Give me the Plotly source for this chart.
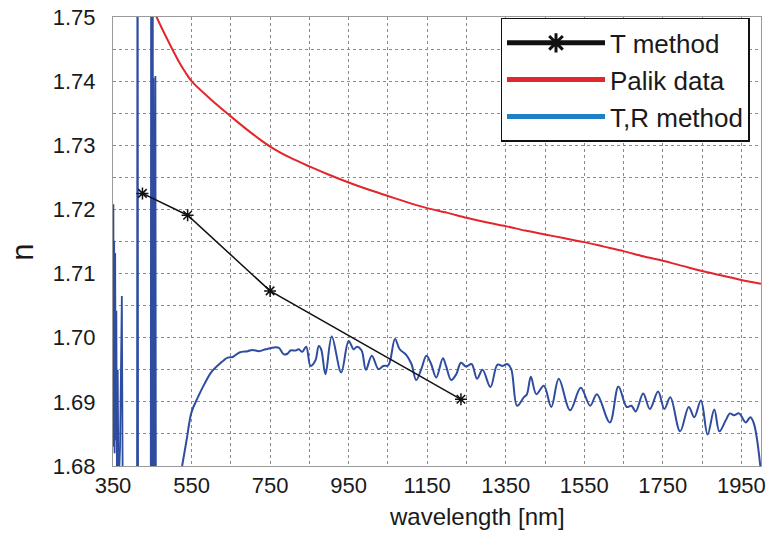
import plotly.graph_objects as go

# ---- data ----
t_wl = [425, 540, 750, 1236]
t_n = [1.7225, 1.7191, 1.7073, 1.6904]

palik_wl = [450, 461, 486, 519, 535, 550, 600, 646, 688, 722, 750, 800, 850, 900, 950, 1000,
            1050, 1100, 1150, 1200, 1250, 1300, 1350, 1400, 1450, 1500, 1550, 1600,
            1650, 1700, 1750, 1800, 1850, 1900, 1950, 2000]
palik_n = [1.7515, 1.7500, 1.7468, 1.7429, 1.7413, 1.7400, 1.7371, 1.7347, 1.7326, 1.7310,
           1.7298, 1.7281, 1.7267, 1.7254, 1.7242, 1.7231, 1.7221, 1.7211, 1.7202, 1.7195,
           1.7187, 1.7180, 1.7174, 1.7167, 1.7161, 1.7155, 1.7149, 1.7142, 1.7135, 1.7127,
           1.7120, 1.7112, 1.7104, 1.7097, 1.7090, 1.7084]

# T,R method: noisy short-wavelength part (spikes) followed by the smooth part
tr_wl = [350, 351, 352, 353, 354, 355.5, 357, 358.5, 360, 362, 364, 368, 372.5, 375, 390,
         411, 412.5, 414, 446, 447.5, 449, 451, 452, 453, 454.5, 458, 459.5, 500,
         526, 537, 550, 566, 583, 600, 621, 642, 655, 672, 693, 705, 722, 739, 764, 773,
         785, 794, 802, 815, 823, 832, 842, 853, 865, 874, 880, 891, 907, 931, 950, 963,
         971, 983, 994, 1009, 1026, 1038, 1051, 1068, 1080, 1097, 1110, 1122, 1135, 1148,
         1160, 1173, 1190, 1198, 1211, 1224, 1236, 1249, 1263, 1277, 1291, 1311, 1329,
         1342, 1354, 1364, 1379, 1396, 1404, 1414, 1428, 1447, 1466, 1485, 1514, 1541,
         1565, 1582, 1615, 1637, 1658, 1670, 1681, 1700, 1717, 1738, 1754, 1769, 1794,
         1816, 1830, 1847, 1864, 1881, 1894, 1910, 1921, 1931, 1944, 1961, 1973, 1982, 2000]
tr_n = [1.684, 1.7208, 1.683, 1.7151, 1.682, 1.7132, 1.684, 1.7042, 1.678, 1.695, 1.676,
        1.683, 1.7065, 1.672, 1.66,
        1.66, 1.80, 1.66, 1.66, 1.80, 1.66, 1.80, 1.66, 1.7405, 1.66, 1.7408, 1.66, 1.665,
        1.6800, 1.6839, 1.6884, 1.6907, 1.6928, 1.6946, 1.6959, 1.6969, 1.6970, 1.6977,
        1.6979, 1.6981, 1.6979, 1.6982, 1.6985, 1.6984, 1.6974, 1.6975, 1.6980, 1.6980,
        1.6982, 1.6978, 1.6986, 1.6956, 1.6964, 1.6987, 1.6982, 1.6943, 1.7002, 1.6946,
        1.6995, 1.6982, 1.6986, 1.6980, 1.6950, 1.6972, 1.6951, 1.6956, 1.6957, 1.6998,
        1.6982, 1.6973, 1.6959, 1.6934, 1.6951, 1.6972, 1.6959, 1.6938, 1.6968, 1.6956,
        1.6934, 1.6943, 1.6961, 1.6955, 1.6959, 1.6936, 1.6950, 1.6923, 1.6958, 1.6956,
        1.6959, 1.6951, 1.6894, 1.6907, 1.6912, 1.6939, 1.6912, 1.6925, 1.6892, 1.6936,
        1.6887, 1.6922, 1.6894, 1.6912, 1.6868, 1.6924, 1.6892, 1.6894, 1.6885, 1.6913,
        1.6889, 1.6916, 1.6889, 1.6907, 1.6854, 1.6892, 1.6876, 1.6902, 1.6849, 1.6888,
        1.6854, 1.6871, 1.6882, 1.6879, 1.6882, 1.6868, 1.6876, 1.6866, 1.6790]
SPIKE_END = 28  # index where the smooth part begins

x_ticks = [350, 550, 750, 950, 1150, 1350, 1550, 1750, 1950]
y_ticks = [1.68, 1.69, 1.70, 1.71, 1.72, 1.73, 1.74, 1.75]

FONT = "Liberation Sans, Arial, sans-serif"
RED = "#e3262b"
BLUE = "#2f4da0"
TXT = "#1a1a1a"
grid = dict(showgrid=True, gridcolor="#8a8a8a", gridwidth=1, griddash="dot")

fig = go.Figure()
fig.add_trace(go.Scatter(x=tr_wl[:SPIKE_END + 1], y=tr_n[:SPIKE_END + 1], mode="lines",
                         line=dict(color=BLUE, width=1.8), showlegend=False))
fig.add_trace(go.Scatter(x=tr_wl[SPIKE_END:], y=tr_n[SPIKE_END:], mode="lines",
                         line=dict(color=BLUE, width=2, shape="spline", smoothing=1.0),
                         showlegend=False))
fig.add_trace(go.Scatter(x=palik_wl, y=palik_n, mode="lines",
                         line=dict(color=RED, width=2, shape="spline", smoothing=0.8),
                         showlegend=False))
fig.add_trace(go.Scatter(x=t_wl, y=t_n, mode="lines+markers",
                         line=dict(color="#111111", width=1.5),
                         marker=dict(symbol="asterisk-open", size=10,
                                     line=dict(color="#111111", width=1.5)),
                         showlegend=False))
# legend entries
fig.add_trace(go.Scatter(x=[None], y=[None], mode="lines+markers", name="T method",
                         line=dict(color="#111111", width=5),
                         marker=dict(symbol="asterisk-open", size=18,
                                     line=dict(color="#111111", width=3))))
fig.add_trace(go.Scatter(x=[None], y=[None], mode="lines", name="Palik data",
                         line=dict(color="#e0282c", width=5)))
fig.add_trace(go.Scatter(x=[None], y=[None], mode="lines", name="T,R method",
                         line=dict(color="#1f7fc5", width=5)))

fig.update_layout(
    width=771, height=533,
    margin=dict(l=113, r=5, t=15, b=67),
    paper_bgcolor="white", plot_bgcolor="white",
    font=dict(family=FONT, color=TXT),
    legend=dict(x=0.598, y=0.998, xanchor="left", yanchor="top",
                bgcolor="white", bordercolor="#111111", borderwidth=1.5,
                font=dict(size=26, family=FONT, color=TXT),
                itemwidth=98, tracegroupgap=0),
    xaxis=dict(range=[350, 2000], tickvals=x_ticks, ticktext=[str(v) for v in x_ticks],
               tickfont=dict(size=22, family=FONT, color=TXT),
               showline=True, linecolor="#9a9a9a", linewidth=1, mirror=True,
               ticks="", zeroline=False,
               minor=dict(dtick=100, tick0=350, showgrid=True, gridcolor="#8a8a8a",
                          griddash="dot", gridwidth=1),
               **grid),
    yaxis=dict(range=[1.68, 1.75], tickvals=y_ticks,
               ticktext=["%.2f" % v for v in y_ticks],
               tickfont=dict(size=22, family=FONT, color=TXT),
               showline=True, linecolor="#9a9a9a", linewidth=1, mirror=True,
               ticks="", zeroline=False, ticklabelstandoff=12,
               minor=dict(dtick=0.005, tick0=1.68, showgrid=True, gridcolor="#8a8a8a",
                          griddash="dot", gridwidth=1),
               **grid),
    annotations=[
        dict(text="wavelength [nm]", xref="paper", yref="paper", x=0.562, y=-0.112,
             xanchor="center", yanchor="middle", showarrow=False,
             font=dict(size=24, family=FONT, color=TXT)),
        dict(text="n", xref="paper", yref="paper", x=-0.139, y=0.477,
             xanchor="center", yanchor="middle", showarrow=False, textangle=-90,
             font=dict(size=31, family=FONT, color=TXT)),
    ],
)

fig.write_html("out.html")
